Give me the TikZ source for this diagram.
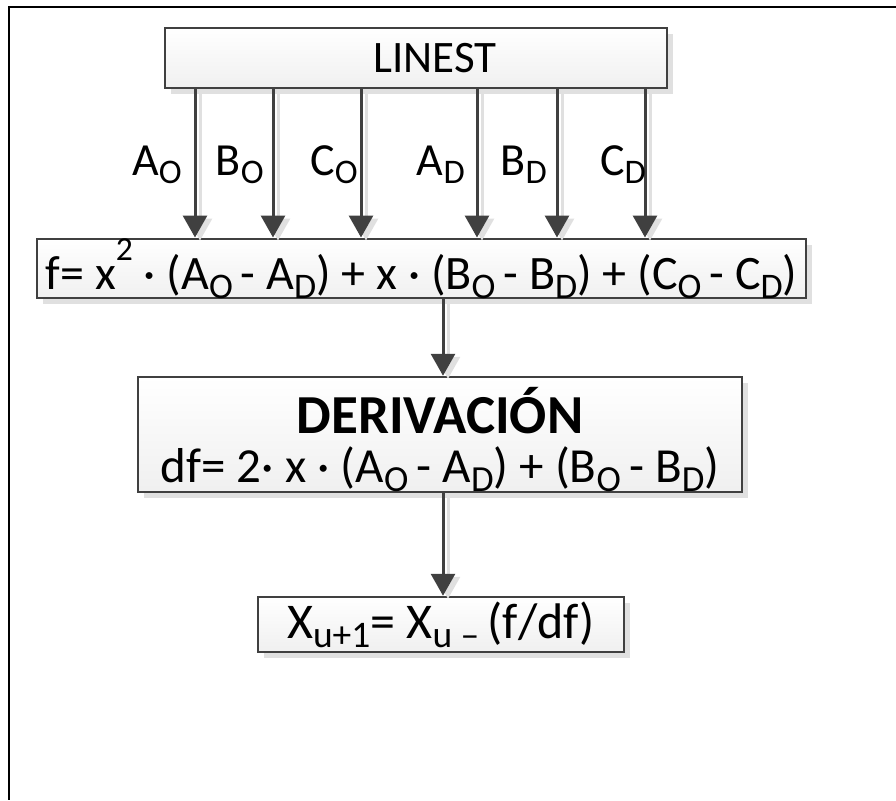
\documentclass[tikz,border=0pt]{standalone}
\usepackage{fontspec}
\usepackage{graphicx}
\setmainfont{Carlito}
\usetikzlibrary{arrows.meta,shadows}
\definecolor{dk}{HTML}{404040}
\definecolor{shd}{HTML}{E0E0E0}
\newcommand\lo[1]{\raisebox{-0.18em}{\scalebox{0.75}{#1}}}
\newcommand\hi[1]{\raisebox{0.6em}{\scalebox{0.7}{#1}}}
\tikzset{
  box/.style={draw=dk, line width=2.5pt, top color=white, bottom color=gray!12,
    drop shadow={shadow xshift=6pt, shadow yshift=-6pt, fill=shd, opacity=1},
    inner sep=0pt, font=\fontsize{48}{47}\selectfont},
  arr/.style={draw=dk, line width=3pt, -{Triangle[width=24pt,length=22pt]}},
  arrshd/.style={draw=shd, line width=3pt, -{Triangle[width=24pt,length=22pt]}},
  lbl/.style={font=\fontsize{46}{50}\selectfont, inner sep=0pt, anchor=base east},
  frame/.style={line width=2.5pt, black}
}
\begin{document}
\begin{tikzpicture}[x=1pt,y=-1pt]
\useasboundingbox (0,0) rectangle (896,800);
\coordinate (tl) at (9,7);
\coordinate (tr) at (896,7);
\coordinate (bl) at (9,800);
\draw[frame] (tr) -- (tl) -- (bl);

\node[box, minimum width=502pt, minimum height=60pt, font=\fontsize{45}{47}\selectfont] (linest) at (416,58) {\hspace*{38pt}LINEST};
\node[box, minimum width=769pt, minimum height=57pt] (fbox) at (421.5,268.5)
  {f= x\hi{2} · (A\lo{O}\,- A\lo{D}) + x · (B\lo{O}\,- B\lo{D}) + (C\lo{O}\,- C\lo{D})};
\node[box, minimum width=604pt, minimum height=115pt, align=center] (der) at (440,434.5)
  {\rule{0pt}{56pt}{\fontsize{55}{47}\selectfont\bfseries DERIVACIÓN}\\[2pt]
   \fontsize{49}{47}\selectfont df= 2· x · (A\lo{O}\,- A\lo{D}) + (B\lo{O}\,- B\lo{D})};
\node[box, minimum width=366pt, minimum height=55pt, font=\fontsize{50}{47}\selectfont] (res) at (441,624.5)
  {X\lo{u+1}= X\lo{u --}\,(f/df)};

\foreach \xx/\nm in {195/a1,273/a2,361/a3,477/a4,557/a5,645/a6}{
  \coordinate (\nm) at (\xx,0);
}
\coordinate (mid) at (443,0);
\foreach \nm in {a1,a2,a3,a4,a5,a6}{
  \draw[arrshd, transform canvas={xshift=5pt,yshift=-3pt}] (linest.south -| \nm) -- (fbox.north -| \nm);
}
\foreach \nm in {a1,a2,a3,a4,a5,a6}{
  \draw[arr] (linest.south -| \nm) -- (fbox.north -| \nm);
}
\draw[arrshd, transform canvas={xshift=5pt,yshift=-3pt}] (fbox.south -| mid) -- (der.north -| mid);
\draw[arr] (fbox.south -| mid) -- (der.north -| mid);
\draw[arrshd, transform canvas={xshift=5pt,yshift=-3pt}] (der.south -| mid) -- (res.north -| mid);
\draw[arr] (der.south -| mid) -- (res.north -| mid);

\node[lbl] (l1) at (182,175) {A\lo{O}};
\node[lbl] (l2) at (264,175) {B\lo{O}};
\node[lbl] (l3) at (358,175) {C\lo{O}};
\node[lbl] (l4) at (465,175) {A\lo{D}};
\node[lbl] (l5) at (547,175) {B\lo{D}};
\node[lbl] (l6) at (646,175) {C\lo{D}};
\end{tikzpicture}
\end{document}
